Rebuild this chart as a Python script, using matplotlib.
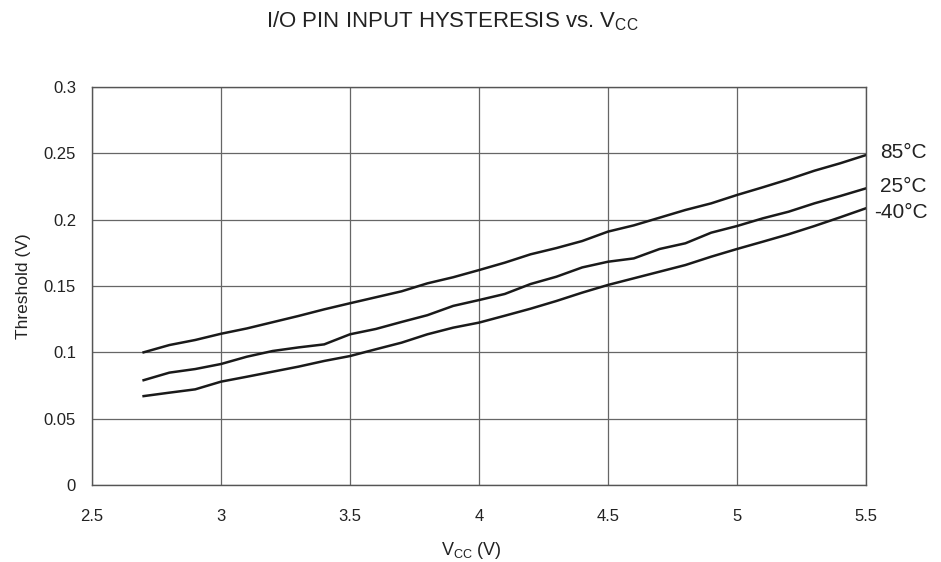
import matplotlib.pyplot as plt
import numpy as np

plt.rcParams['font.family'] = ['Liberation Sans', 'DejaVu Sans']

# supply voltage (V)
vcc = [2.7, 2.8, 2.9, 3.0, 3.1, 3.2, 3.3, 3.4, 3.5, 3.6,
       3.7, 3.8, 3.9, 4.0, 4.1, 4.2, 4.3, 4.4, 4.5, 4.6,
       4.7, 4.8, 4.9, 5.0, 5.1, 5.2, 5.3, 5.4, 5.5]

# hysteresis (V) per temperature
t85 = [0.100, 0.1055, 0.1093, 0.114, 0.118, 0.1227, 0.1274, 0.1324, 0.137, 0.1415,
       0.146, 0.152, 0.1566, 0.162, 0.1676, 0.1739, 0.1786, 0.1839, 0.191, 0.1957,
       0.2015, 0.2073, 0.2123, 0.2186, 0.2244, 0.2304, 0.2369, 0.2425, 0.2487]
t25 = [0.079, 0.0847, 0.0874, 0.0912, 0.0967, 0.101, 0.1037, 0.1060, 0.1136, 0.1176,
       0.1229, 0.128, 0.135, 0.1394, 0.144, 0.1515, 0.157, 0.164, 0.1683, 0.1708,
       0.1779, 0.1822, 0.1902, 0.1952, 0.201, 0.206, 0.2123, 0.2178, 0.2236]
tm40 = [0.067, 0.0696, 0.0721, 0.0779, 0.0816, 0.0854, 0.0892, 0.0935, 0.0972, 0.1023,
        0.1073, 0.1136, 0.1186, 0.1224, 0.1276, 0.1329, 0.1387, 0.145, 0.1508, 0.1558,
        0.1608, 0.1658, 0.1721, 0.1779, 0.1834, 0.189, 0.1952, 0.2018, 0.2086]

# (values, label, label x offset pt, label y offset pt)
series = [(t85, '85°C', 10, 2), (t25, '25°C', 10, 1), (tm40, '-40°C', 6, -3)]

fig = plt.figure(figsize=(9.41, 5.62), dpi=100)
ax = fig.add_axes([92/941, 1-485/562, (866-92)/941, (485-87)/562])

for vals, name, dx, dy in series:
    ax.plot(vcc, vals, color='#1a1a1a', linewidth=1.8, solid_joinstyle='round')
    ax.annotate(name, xy=(vcc[-1], vals[-1]), xytext=(dx, dy),
                textcoords='offset points', ha='left', va='center', fontsize=15,
                color='#222222', annotation_clip=False)

ax.set_xlim(2.5, 5.5)
ax.set_ylim(0, 0.3)
ax.set_xticks([2.5, 3, 3.5, 4, 4.5, 5, 5.5])
ax.set_xticklabels(['2.5', '3', '3.5', '4', '4.5', '5', '5.5'])
ax.set_yticks([0, 0.05, 0.1, 0.15, 0.2, 0.25, 0.3])
ax.set_yticklabels(['0', '0.05', '0.1', '0.15', '0.2', '0.25', '0.3'])
ax.grid(True, color='#666666', linewidth=0.9)
ax.set_axisbelow(True)
for s in ax.spines.values():
    s.set_color('#555555')
    s.set_linewidth(1.0)
ax.tick_params(length=0, labelsize=12, colors='#222222')
ax.tick_params(axis='x', pad=17)
ax.tick_params(axis='y', pad=11.5)

ax.set_xlabel('V$_{\\mathregular{CC}}$ (V)', fontsize=13, color='#222222')
ax.xaxis.set_label_coords(0.49, -0.137)
ax.set_ylabel('Threshold (V)', fontsize=12.5, color='#222222')
ax.yaxis.set_label_coords(-0.079, 0.5)
fig.text(452/941, 1-27.5/562, 'I/O PIN INPUT HYSTERESIS vs. V$_{\\mathregular{CC}}$',
         ha='center', va='baseline', fontsize=16, color='#222222')

plt.savefig('out.png', dpi=100)
